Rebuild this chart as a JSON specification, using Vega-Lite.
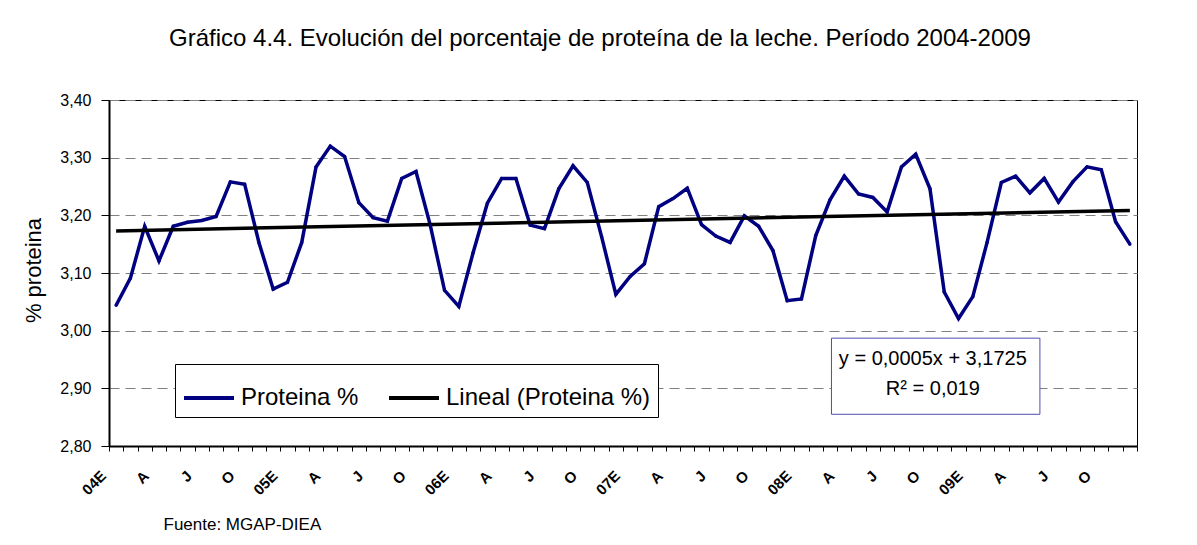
{
  "$schema": "https://vega.github.io/schema/vega-lite/v6.json",
  "width": 1028,
  "height": 346,
  "autosize": {"type": "none"},
  "padding": {"left": 109, "top": 100, "right": 60, "bottom": 99},
  "background": "white",
  "config": {"view": {"stroke": "#000", "strokeWidth": 1}, "font": "Liberation Sans"},
  "title": {
    "text": "Gráfico 4.4. Evolución del porcentaje de proteína de la leche. Período 2004-2009",
    "fontSize": 24, "font": "Liberation Sans", "fontWeight": "normal", "color": "#000",
    "anchor": "middle", "dx": -23, "baseline": "alphabetic", "offset": 22
  },
  "datasets": {
    "proteina": [
      {"mes": 1, "valor": 3.044}, {"mes": 2, "valor": 3.091}, {"mes": 3, "valor": 3.181}, {"mes": 4, "valor": 3.121},
      {"mes": 5, "valor": 3.181}, {"mes": 6, "valor": 3.188}, {"mes": 7, "valor": 3.191}, {"mes": 8, "valor": 3.198},
      {"mes": 9, "valor": 3.258}, {"mes": 10, "valor": 3.254}, {"mes": 11, "valor": 3.153}, {"mes": 12, "valor": 3.072},
      {"mes": 13, "valor": 3.084}, {"mes": 14, "valor": 3.153}, {"mes": 15, "valor": 3.284}, {"mes": 16, "valor": 3.320},
      {"mes": 17, "valor": 3.302}, {"mes": 18, "valor": 3.222}, {"mes": 19, "valor": 3.196}, {"mes": 20, "valor": 3.190},
      {"mes": 21, "valor": 3.264}, {"mes": 22, "valor": 3.276}, {"mes": 23, "valor": 3.183}, {"mes": 24, "valor": 3.070},
      {"mes": 25, "valor": 3.042}, {"mes": 26, "valor": 3.135}, {"mes": 27, "valor": 3.221}, {"mes": 28, "valor": 3.264},
      {"mes": 29, "valor": 3.264}, {"mes": 30, "valor": 3.183}, {"mes": 31, "valor": 3.177}, {"mes": 32, "valor": 3.246},
      {"mes": 33, "valor": 3.286}, {"mes": 34, "valor": 3.257}, {"mes": 35, "valor": 3.163}, {"mes": 36, "valor": 3.063},
      {"mes": 37, "valor": 3.094}, {"mes": 38, "valor": 3.116}, {"mes": 39, "valor": 3.215}, {"mes": 40, "valor": 3.229},
      {"mes": 41, "valor": 3.247}, {"mes": 42, "valor": 3.184}, {"mes": 43, "valor": 3.164}, {"mes": 44, "valor": 3.153},
      {"mes": 45, "valor": 3.199}, {"mes": 46, "valor": 3.181}, {"mes": 47, "valor": 3.139}, {"mes": 48, "valor": 3.052},
      {"mes": 49, "valor": 3.055}, {"mes": 50, "valor": 3.165}, {"mes": 51, "valor": 3.227}, {"mes": 52, "valor": 3.268},
      {"mes": 53, "valor": 3.237}, {"mes": 54, "valor": 3.231}, {"mes": 55, "valor": 3.206}, {"mes": 56, "valor": 3.284},
      {"mes": 57, "valor": 3.306}, {"mes": 58, "valor": 3.246}, {"mes": 59, "valor": 3.067}, {"mes": 60, "valor": 3.021},
      {"mes": 61, "valor": 3.059}, {"mes": 62, "valor": 3.153}, {"mes": 63, "valor": 3.257}, {"mes": 64, "valor": 3.268},
      {"mes": 65, "valor": 3.239}, {"mes": 66, "valor": 3.264}, {"mes": 67, "valor": 3.223}, {"mes": 68, "valor": 3.258},
      {"mes": 69, "valor": 3.284}, {"mes": 70, "valor": 3.279}, {"mes": 71, "valor": 3.189}, {"mes": 72, "valor": 3.150}
    ],
    "tendencia": [
      {"mes": 1, "valor": 3.173}, {"mes": 72, "valor": 3.2085}
    ],
    "ecuacion": [
      {"linea1": "y = 0,0005x + 3,1725", "linea2": "R² = 0,019"}
    ]
  },
  "resolve": {"axis": {"x": "independent"}},
  "layer": [
    {
      "data": {"name": "proteina"},
      "mark": {"type": "line", "strokeWidth": 3.5},
      "encoding": {
        "x": {
          "field": "mes", "type": "quantitative",
          "scale": {"domain": [0.5, 72.5], "nice": false, "zero": false},
          "axis": {
            "orient": "bottom",
            "values": [0.5,1.5,2.5,3.5,4.5,5.5,6.5,7.5,8.5,9.5,10.5,11.5,12.5,13.5,14.5,15.5,16.5,17.5,18.5,19.5,20.5,21.5,22.5,23.5,24.5,25.5,26.5,27.5,28.5,29.5,30.5,31.5,32.5,33.5,34.5,35.5,36.5,37.5,38.5,39.5,40.5,41.5,42.5,43.5,44.5,45.5,46.5,47.5,48.5,49.5,50.5,51.5,52.5,53.5,54.5,55.5,56.5,57.5,58.5,59.5,60.5,61.5,62.5,63.5,64.5,65.5,66.5,67.5,68.5,69.5,70.5,71.5,72.5],
            "labels": false, "ticks": true, "tickSize": 5, "tickColor": "#000", "tickWidth": 1,
            "domain": true, "domainColor": "#000", "domainWidth": 2, "grid": false,
            "title": "Fuente: MGAP-DIEA", "titleX": 54, "titleY": 83, "titleAlign": "left",
            "titleBaseline": "alphabetic", "titleFontSize": 17, "titleFont": "Liberation Sans",
            "titleFontWeight": "normal", "titleColor": "#000"
          }
        },
        "y": {
          "field": "valor", "type": "quantitative",
          "scale": {"domain": [2.8, 3.4], "nice": false, "zero": false},
          "axis": {
            "values": [2.8, 2.9, 3.0, 3.1, 3.2, 3.3, 3.4],
            "labelExpr": "replace(format(datum.value, '.2f'), '.', ',')",
            "grid": true, "gridDash": [10, 6], "gridColor": "#808080", "gridWidth": 1,
            "tickSize": 8, "tickColor": "#000", "domainColor": "#000", "domainWidth": 2,
            "labelFontSize": 16, "labelPadding": 10, "labelColor": "#000", "labelFont": "Liberation Sans",
            "labelFlush": false,
            "title": "% proteina", "titleFontSize": 22, "titleFontWeight": "normal", "titleFont": "Liberation Sans",
            "titleX": -76, "titleY": 170, "titleBaseline": "middle", "titleAlign": "center", "titleAngle": -90,
            "titleColor": "#000"
          }
        },
        "color": {
          "datum": "Proteina %",
          "scale": {"domain": ["Proteina %", "Lineal (Proteina %)"], "range": ["#000080", "#000000"]},
          "legend": {
            "orient": "none", "legendX": 66, "legendY": 264, "direction": "horizontal", "title": null,
            "strokeColor": "#000", "fillColor": "#fff", "padding": 7,
            "symbolType": "stroke", "symbolSize": 2500, "symbolStrokeWidth": 4,
            "labelFontSize": 24, "labelFont": "Liberation Sans", "labelColor": "#000",
            "labelOffset": 5, "columnPadding": 22, "labelLimit": 400
          }
        }
      }
    },
    {
      "data": {"name": "tendencia"},
      "mark": {"type": "line", "strokeWidth": 3.5},
      "encoding": {
        "x": {
          "field": "mes", "type": "quantitative",
          "axis": {
            "orient": "bottom",
            "values": [1,4,7,10,13,16,19,22,25,28,31,34,37,40,43,46,49,52,55,58,61,64,67,70],
            "labelExpr": "['04E','A','J','O','05E','A','J','O','06E','A','J','O','07E','A','J','O','08E','A','J','O','09E','A','J','O'][(datum.value - 1) / 3]",
            "domain": false, "ticks": false, "tickSize": 0, "grid": false,
            "labelAngle": -45, "labelAlign": "right", "labelBaseline": "middle",
            "labelOffset": -13, "labelPadding": 27, "labelFontSize": 15, "labelFontWeight": "bold",
            "labelFont": "Liberation Sans",
            "labelColor": "#000", "labelOverlap": false, "labelFlush": false, "labelBound": false,
            "title": null
          }
        },
        "y": {"field": "valor", "type": "quantitative"},
        "color": {"datum": "Lineal (Proteina %)"}
      }
    },
    {
      "data": {"name": "proteina"},
      "mark": {"type": "point", "filled": true, "size": 12, "color": "#000080", "opacity": 1},
      "encoding": {
        "x": {"field": "mes", "type": "quantitative", "axis": null},
        "y": {"field": "valor", "type": "quantitative"}
      }
    },
    {
      "data": {"name": "ecuacion"},
      "mark": {"type": "rect", "fill": "#ffffff", "stroke": "#4d4db3", "strokeWidth": 1},
      "encoding": {
        "x": {"datum": 51.1, "type": "quantitative", "axis": null},
        "x2": {"datum": 65.7},
        "y": {"datum": 2.987, "type": "quantitative"},
        "y2": {"datum": 2.855}
      }
    },
    {
      "data": {"name": "ecuacion"},
      "mark": {"type": "text", "fontSize": 20, "font": "Liberation Sans", "color": "#000", "align": "center", "baseline": "middle"},
      "encoding": {
        "x": {"datum": 58.2, "type": "quantitative", "axis": null},
        "y": {"datum": 2.951, "type": "quantitative"},
        "text": {"field": "linea1"}
      }
    },
    {
      "data": {"name": "ecuacion"},
      "mark": {"type": "text", "fontSize": 20, "font": "Liberation Sans", "color": "#000", "align": "center", "baseline": "middle"},
      "encoding": {
        "x": {"datum": 58.2, "type": "quantitative", "axis": null},
        "y": {"datum": 2.899, "type": "quantitative"},
        "text": {"field": "linea2"}
      }
    }
  ]
}
